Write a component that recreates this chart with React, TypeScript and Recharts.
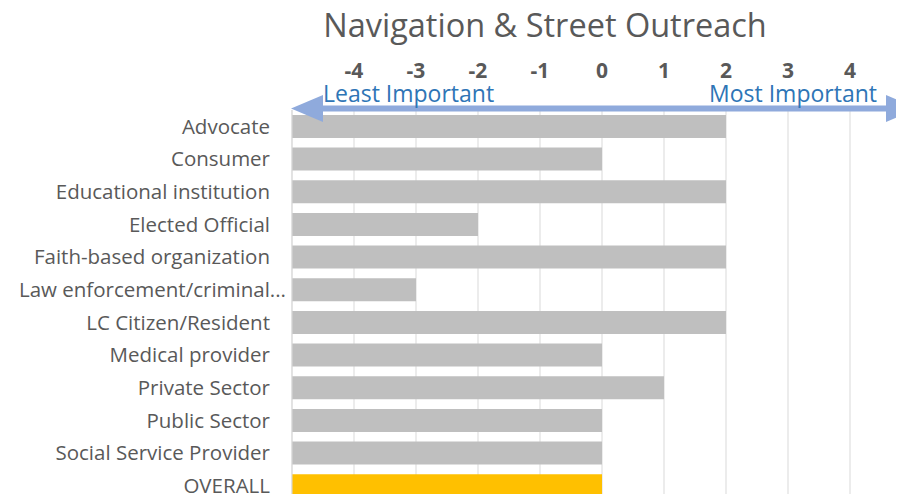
import React from 'react';
import { BarChart, Bar, XAxis, YAxis, CartesianGrid, Cell } from 'recharts';

const categories = [
  'Advocate',
  'Consumer',
  'Educational institution',
  'Elected Official',
  'Faith-based organization',
  'Law enforcement/criminal...',
  'LC Citizen/Resident',
  'Medical provider',
  'Private Sector',
  'Public Sector',
  'Social Service Provider',
  'OVERALL',
];
const scores = [2, 0, 2, -2, 2, -3, 2, 0, 1, 0, 0, 0];
const xTicks = [-4, -3, -2, -1, 0, 1, 2, 3, 4];
const axisMin = -5;
const axisMax = 5;
const title = 'Navigation & Street Outreach';
const leftLabel = 'Least Important';
const rightLabel = 'Most Important';

const data = categories.map((name, i) => ({ name, range: [axisMin, scores[i]] }));

const FONT = '"Open Sans", sans-serif';
const GREY = '#595959';

const TopTick = (props: any) => {
  const { x, y, payload } = props;
  return (
    <text x={x} y={y - 32} textAnchor="middle" fill={GREY} fontSize={21} fontWeight="bold" fontFamily={FONT}>
      {payload.value}
    </text>
  );
};

const LeftTick = (props: any) => {
  const { x, y, payload } = props;
  const truncated = String(payload.value).endsWith('...');
  return (
    <text
      x={truncated ? x + 16 : x}
      y={y}
      dy="0.355em"
      textAnchor="end"
      fill={GREY}
      fontSize={20.5}
      fontFamily={FONT}
    >
      {payload.value}
    </text>
  );
};

export default function App() {
  return (
    <div style={{ position: 'relative', margin: -8, width: 904, height: 502, overflow: 'hidden' }}>
      <BarChart
        layout="vertical"
        width={928}
        height={502}
        data={data}
        margin={{ top: 70, right: 16, bottom: 0, left: 8 }}
        barCategoryGap="15%"
      >
        <CartesianGrid horizontal={false} stroke="#d9d9d9" />
        <XAxis
          type="number"
          orientation="top"
          domain={[axisMin, axisMax]}
          ticks={xTicks}
          height={40}
          axisLine={false}
          tickLine={false}
          tickSize={0}
          tickMargin={0}
          tick={<TopTick />}
          allowDataOverflow
        />
        <YAxis
          type="category"
          dataKey="name"
          width={284}
          axisLine={{ stroke: '#d9d9d9' }}
          tickLine={false}
          tickSize={0}
          tickMargin={22}
          interval={0}
          tick={<LeftTick />}
        />
        <Bar dataKey="range" isAnimationActive={false}>
          {data.map((d, i) => (
            <Cell key={i} fill={d.name === 'OVERALL' ? '#ffc000' : '#bfbfbf'} />
          ))}
        </Bar>
      </BarChart>
      <svg
        width={904}
        height={502}
        style={{ position: 'absolute', left: 0, top: 0, pointerEvents: 'none' }}
      >
        <text x={545} y={37} textAnchor="middle" fill={GREY} fontSize={32.5} fontFamily={FONT}>
          {title}
        </text>
        <line x1={308} y1={108.5} x2={903} y2={108.5} stroke="#8faadc" strokeWidth={6} />
        <polygon points="291,108.5 323,95 323,122" fill="#8faadc" />
        <polygon points="918,108.5 886,95 886,122" fill="#8faadc" />
        <text x={323} y={102} fill="#2e75b6" fontSize={23} fontFamily={FONT}>
          {leftLabel}
        </text>
        <text x={877} y={102} textAnchor="end" fill="#2e75b6" fontSize={23} fontFamily={FONT}>
          {rightLabel}
        </text>
      </svg>
    </div>
  );
}
